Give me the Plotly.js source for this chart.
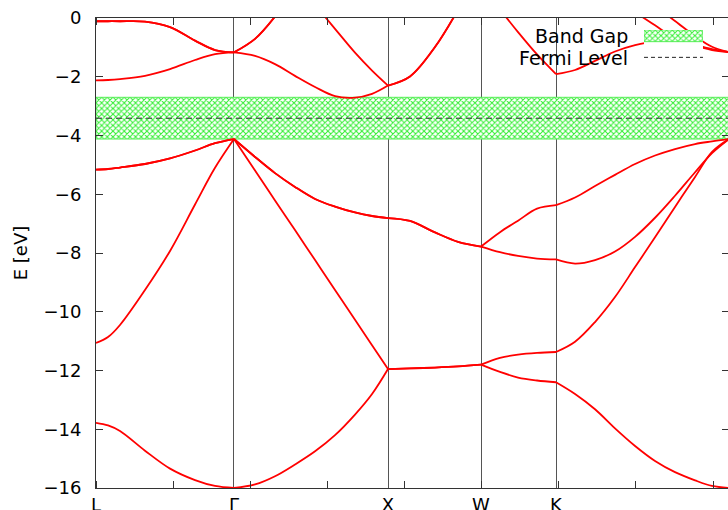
<!DOCTYPE html>
<html>
<head>
<meta charset="utf-8">
<script src="https://cdn.plot.ly/plotly-3.0.1.min.js"></script>
<style>
  html, body { margin: 0; padding: 0; overflow: hidden; background: #fff; }
</style>
</head>
<body>
<div id="plot"></div>
<script>
// High-symmetry points of the k-path and their labels
const kLabels = ['L', 'Γ', 'X', 'W', 'K', 'Γ'];
const kPoints = [0, 1.789, 3.786, 4.992, 5.964, 8.207];

// k sampling shared by every band (segments L-Γ, Γ-X, X-W, W-K, K-Γ)
const kGrid = [0, 0.156, 0.311, 0.635, 0.960, 1.284, 1.543, 1.789,
  2.062, 2.321, 2.580, 2.840, 3.099, 3.358, 3.579, 3.786,
  4.071, 4.395, 4.694, 4.992,
  5.238, 5.472, 5.718, 5.964,
  6.211, 6.470, 6.729, 6.989, 7.248, 7.507, 7.767, 7.987, 8.207];

// Grid indices where each path segment starts/ends
const segmentEdges = [0, 7, 15, 19, 23, 32];

// Band energies (eV) on kGrid; null where the band is above the window
const band1 = [-13.78, -13.87, -14.06, -14.73, -15.34, -15.73, -15.93, -16.0,
  -15.88, -15.6, -15.2, -14.75, -14.2, -13.5, -12.8, -11.95,
  -11.93, -11.9, -11.86, -11.8,
  -12.05, -12.24, -12.34, -12.4,
  -12.8, -13.32, -13.97, -14.57, -15.08, -15.46, -15.74, -15.93, -16.0];
const band2 = [-11.06, -10.86, -10.45, -9.26, -7.93, -6.35, -5.1, -4.12,
  -5.19, -6.21, -7.22, -8.24, -9.26, -10.27, -11.14, -11.95,
  -11.93, -11.9, -11.86, -11.8,
  -11.57, -11.46, -11.4, -11.37,
  -11.02, -10.35, -9.5, -8.48, -7.46, -6.43, -5.41, -4.56, -4.12];
const band3 = [-5.16, -5.14, -5.09, -4.97, -4.78, -4.51, -4.26, -4.12,
  -4.73, -5.28, -5.75, -6.16, -6.42, -6.62, -6.74, -6.81,
  -6.91, -7.3, -7.62, -7.78,
  -7.97, -8.1, -8.19, -8.22,
  -8.36, -8.24, -7.95, -7.45, -6.8, -6.05, -5.25, -4.6, -4.12];
const band4 = [-5.16, -5.14, -5.09, -4.97, -4.78, -4.51, -4.26, -4.12,
  -4.73, -5.28, -5.75, -6.16, -6.42, -6.62, -6.74, -6.81,
  -6.91, -7.3, -7.62, -7.78,
  -7.29, -6.9, -6.49, -6.37,
  -6.11, -5.72, -5.34, -4.97, -4.68, -4.46, -4.29, -4.2, -4.12];
const band5 = [-2.12, -2.11, -2.08, -1.97, -1.74, -1.43, -1.23, -1.17,
  -1.29, -1.57, -1.97, -2.35, -2.66, -2.71, -2.58, -2.3,
  -1.99, -0.99, 0.28, null,
  0.29, -0.48, -1.24, -1.91,
  -1.77, -1.46, -1.14, -0.92, -0.81, -0.84, -0.95, -1.09, -1.16];
const band6 = [-0.11, -0.11, -0.11, -0.12, -0.31, -0.77, -1.09, -1.17,
  -0.71, 0.05, null, 0.45, -0.37, -1.18, -1.79, -2.3,
  -1.99, -0.99, 0.28, null,
  null, null, null, null,
  null, null, null, 0.2, -0.25, -0.68, -0.9, -1.06, -1.16];
const band7 = [-0.11, -0.11, -0.11, -0.12, -0.31, -0.77, -1.09, -1.17,
  -0.71, 0.05, null, null, null, null, null, null,
  null, null, null, null,
  null, null, null, null,
  null, null, null, null, 0.4, -0.1, -0.62, -0.98, -1.16];
const bands = [band1, band2, band3, band4, band5, band6, band7];

// Valence band top, conduction band bottom and the Fermi level between them
const valenceTop = -4.12;
const conductionBottom = -2.70;
const fermiLevel = (valenceTop + conductionBottom) / 2;

// Key entry labels
const keyLabels = ['Band Gap', 'Fermi Level'];

const kStart = kPoints[0];
const kEnd = kPoints[kPoints.length - 1];

const gapPattern = { shape: 'x', fgcolor: '#33ee33', bgcolor: '#ffffff', size: 4, solidity: 0.45 };
const gapEdge = { color: '#55ee55', width: 1 };
const fermiLine = { color: '#222', width: 1, dash: '6px,4px' };

const traces = [];

// Shaded gap between the band edges
traces.push({
  type: 'scatter', mode: 'lines', showlegend: false,
  x: [kStart, kEnd, kEnd, kStart, kStart],
  y: [conductionBottom, conductionBottom, valenceTop, valenceTop, conductionBottom],
  fill: 'toself', fillcolor: 'rgba(0,0,0,0)', fillpattern: gapPattern,
  line: gapEdge, hoverinfo: 'skip'
});

// Fermi level
traces.push({
  type: 'scatter', mode: 'lines', showlegend: false,
  x: [kStart, kEnd], y: [fermiLevel, fermiLevel],
  line: fermiLine, hoverinfo: 'skip'
});

// Each band drawn segment by segment so the kinks at the special points stay sharp
bands.forEach(function (band) {
  for (let s = 0; s < segmentEdges.length - 1; s++) {
    const a = segmentEdges[s], b = segmentEdges[s + 1];
    traces.push({
      type: 'scatter', mode: 'lines', showlegend: false,
      x: kGrid.slice(a, b + 1), y: band.slice(a, b + 1),
      line: { color: '#ff0000', width: 1.8, shape: 'spline', smoothing: 1 },
      connectgaps: false, hoverinfo: 'skip'
    });
  }
});

// Key samples, drawn on their own small hidden axes in the top-right corner
traces.push({
  type: 'scatter', mode: 'lines', showlegend: false, xaxis: 'x2', yaxis: 'y2',
  x: [0, 1, 1, 0, 0], y: [1, 1, 0.635, 0.635, 1],
  fill: 'toself', fillcolor: 'rgba(0,0,0,0)', fillpattern: gapPattern,
  line: gapEdge, hoverinfo: 'skip'
});
traces.push({
  type: 'scatter', mode: 'lines', showlegend: false, xaxis: 'x2', yaxis: 'y2',
  x: [0, 1], y: [0.145, 0.145],
  line: { color: '#222', width: 1, dash: '4px,3px' }, hoverinfo: 'skip'
});

const font = 'DejaVu Sans, Verdana, sans-serif';
const axisColor = '#333';

const layout = {
  width: 732, height: 530,
  margin: { l: 96, r: 3, t: 18, b: 42 },
  paper_bgcolor: '#fff', plot_bgcolor: '#fff',
  font: { family: font, size: 18, color: '#000' },
  showlegend: false,
  xaxis: {
    range: [kStart, kEnd],
    tickmode: 'array', tickvals: kPoints, ticktext: kLabels,
    ticks: '', showgrid: true, gridcolor: '#555', gridwidth: 1,
    showline: true, mirror: 'allticks', linecolor: axisColor, linewidth: 1,
    zeroline: false,
    minor: { tickmode: 'linear', tick0: 0, dtick: 1, ticks: 'inside', ticklen: 7, tickcolor: axisColor, showgrid: false },
    tickfont: { family: font, size: 18, color: '#000' },
    ticklabelstandoff: 0
  },
  yaxis: {
    range: [-16, 0], tickmode: 'linear', tick0: 0, dtick: 2,
    ticks: 'inside', ticklen: 7, tickcolor: axisColor,
    showline: true, mirror: 'allticks', linecolor: axisColor, linewidth: 1,
    showgrid: false, zeroline: false,
    tickfont: { family: font, size: 18, color: '#000' },
    ticklabelstandoff: 10,
    title: { text: 'E [eV]', font: { family: font, size: 18, color: '#000' }, standoff: 11 }
  },
  xaxis2: { domain: [0.8657, 0.9589], range: [0, 1], anchor: 'y2', visible: false, fixedrange: true },
  yaxis2: { domain: [0.9064, 0.9745], range: [0, 1], anchor: 'x2', visible: false, fixedrange: true },
  annotations: [
    { xref: 'paper', yref: 'paper', x: 0.8436, y: 0.9617, xanchor: 'right', yanchor: 'middle',
      text: keyLabels[0], showarrow: false, font: { family: font, size: 19, color: '#000' } },
    { xref: 'paper', yref: 'paper', x: 0.8436, y: 0.9155, xanchor: 'right', yanchor: 'middle',
      text: keyLabels[1], showarrow: false, font: { family: font, size: 19, color: '#000' } }
  ]
};

Plotly.newPlot('plot', traces, layout, { displayModeBar: false, staticPlot: true });
</script>
</body>
</html>
